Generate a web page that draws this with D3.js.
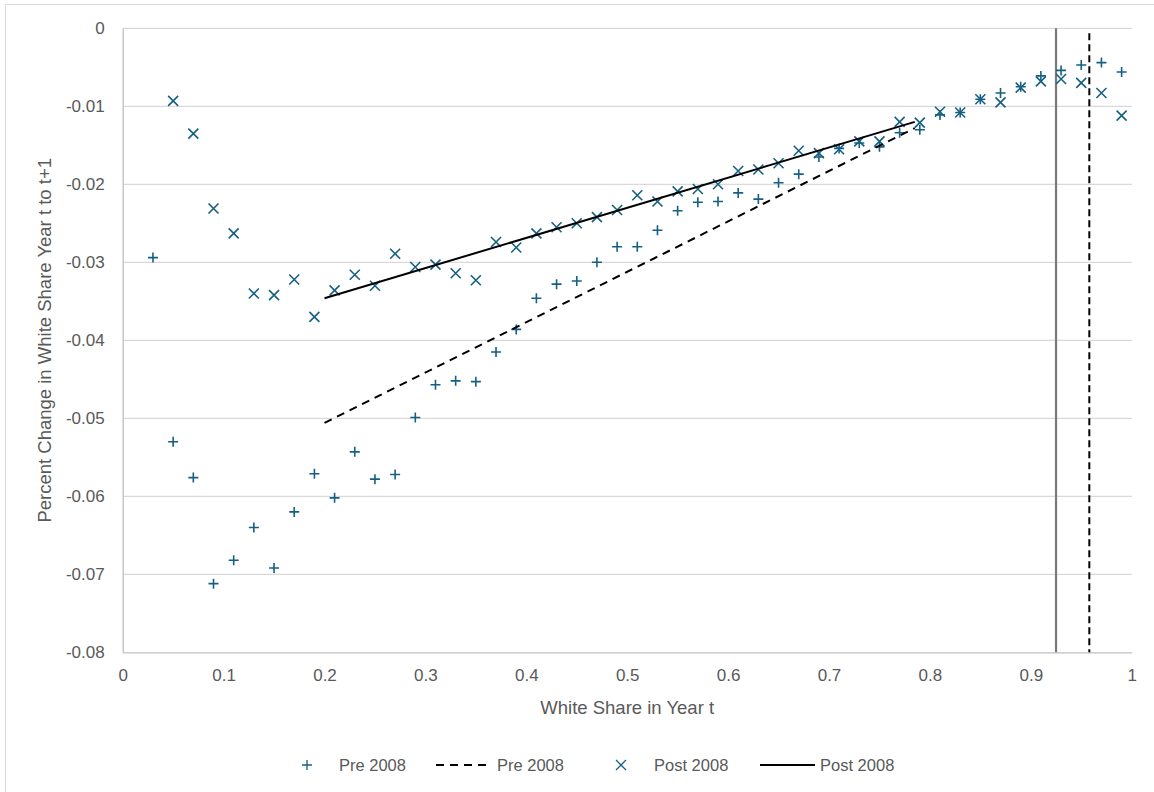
<!DOCTYPE html>
<html>
<head>
<meta charset="utf-8">
<script src="https://cdn.jsdelivr.net/npm/d3@7"></script>
<style>
  body { margin: 0; background: #fff; }
  text { font-family: "Liberation Sans", Arial, sans-serif; fill: #595959; }
</style>
</head>
<body>
<div id="chart"></div>
<script>
// White share bins (x), one point per bin
var shares = [0.03, 0.05, 0.07, 0.09, 0.11, 0.13, 0.15, 0.17, 0.19, 0.21,
              0.23, 0.25, 0.27, 0.29, 0.31, 0.33, 0.35, 0.37, 0.39, 0.41,
              0.43, 0.45, 0.47, 0.49, 0.51, 0.53, 0.55, 0.57, 0.59, 0.61,
              0.63, 0.65, 0.67, 0.69, 0.71, 0.73, 0.75, 0.77, 0.79, 0.81,
              0.83, 0.85, 0.87, 0.89, 0.91, 0.93, 0.95, 0.97, 0.99];

var pre2008 = [-0.0294, -0.0530, -0.0576, -0.0712, -0.0682, -0.0640, -0.0692, -0.0620, -0.0571, -0.0602,
               -0.0543, -0.0578, -0.0572, -0.0499, -0.0457, -0.0452, -0.0453, -0.0415, -0.0386, -0.0346,
               -0.0328, -0.0324, -0.0300, -0.0280, -0.0280, -0.0259, -0.0234, -0.0223, -0.0222, -0.0211,
               -0.0219, -0.0198, -0.0187, -0.0165, -0.0154, -0.0147, -0.0152, -0.0134, -0.0130, -0.0111,
               -0.0108, -0.0091, -0.0083, -0.0075, -0.0061, -0.0054, -0.0047, -0.0044, -0.0056];

var post2008 = [null, -0.0093, -0.0135, -0.0231, -0.0263, -0.0340, -0.0342, -0.0322, -0.0370, -0.0336,
                -0.0316, -0.0330, -0.0289, -0.0306, -0.0303, -0.0314, -0.0323, -0.0274, -0.0281, -0.0263,
                -0.0255, -0.0250, -0.0242, -0.0233, -0.0214, -0.0222, -0.0209, -0.0206, -0.0200, -0.0183,
                -0.0181, -0.0173, -0.0157, -0.0160, -0.0155, -0.0145, -0.0145, -0.0120, -0.0121, -0.0107,
                -0.0108, -0.0091, -0.0095, -0.0076, -0.0068, -0.0065, -0.0070, -0.0083, -0.0112];

// linear fit lines (endpoints as drawn)
var preTrend = [[0.2, -0.0506], [0.785, -0.0128]];
var postTrend = [[0.2, -0.0346], [0.785, -0.0120]];

// vertical reference lines
var postCutoff = 0.925;
var preCutoff = 0.958;

var xTicks = [0, 0.1, 0.2, 0.3, 0.4, 0.5, 0.6, 0.7, 0.8, 0.9, 1];
var yTicks = [0, -0.01, -0.02, -0.03, -0.04, -0.05, -0.06, -0.07, -0.08];

var W = 1154, H = 792;
var markColor = "#156082";

var svg = d3.select("#chart")
    .append("svg")
    .attr("width", W)
    .attr("height", H);

// chart border
svg.append("rect")
    .attr("x", 5.5).attr("y", 4.5)
    .attr("width", W).attr("height", H)
    .attr("fill", "none")
    .attr("stroke", "#d9d9d9");

var x = d3.scaleLinear().domain([0, 1]).range([122.7, 1131.7]);
var y = d3.scaleLinear().domain([-0.08, 0]).range([652.3, 28.3]);

// gridlines
svg.append("g")
    .selectAll("line")
    .data(yTicks.filter(function(d) { return d !== -0.08; }))
    .enter()
    .append("line")
    .attr("x1", x(0)).attr("x2", x(1))
    .attr("y1", function(d) { return y(d); })
    .attr("y2", function(d) { return y(d); })
    .attr("stroke", "#d9d9d9")
    .attr("stroke-width", 1.3);

// axes
var xAxis = svg.append("g")
    .attr("transform", "translate(0," + y(-0.08) + ")")
    .call(d3.axisBottom(x).tickValues(xTicks).tickSize(0).tickPadding(17)
        .tickFormat(function(d) { return d3.format("")(+d.toFixed(1)); }));
xAxis.select(".domain").attr("stroke", "#bfbfbf").attr("stroke-width", 1.3);
xAxis.selectAll("text").style("font-size", "17px").style("fill", "#595959");

var yAxis = svg.append("g")
    .attr("transform", "translate(" + x(0) + ",0)")
    .call(d3.axisLeft(y).tickValues(yTicks).tickSize(0).tickPadding(18)
        .tickFormat(function(d) { return d === 0 ? "0" : d3.format(".2f")(d).replace("−", "-"); }));
yAxis.select(".domain").attr("stroke", "#bfbfbf").attr("stroke-width", 1.3);
yAxis.selectAll("text").style("font-size", "17px").style("fill", "#595959");

// axis titles
svg.append("text")
    .attr("x", (x(0) + x(1)) / 2)
    .attr("y", 714)
    .attr("text-anchor", "middle")
    .style("font-size", "18.5px")
    .text("White Share in Year t");

svg.append("text")
    .attr("transform", "translate(51," + ((y(0) + y(-0.08)) / 2) + ")rotate(-90)")
    .attr("text-anchor", "middle")
    .style("font-size", "18.5px")
    .text("Percent Change in White Share Year t to t+1");

// vertical reference lines
svg.append("line")
    .attr("x1", x(postCutoff)).attr("x2", x(postCutoff))
    .attr("y1", y(0)).attr("y2", y(-0.08))
    .attr("stroke", "#7a7a7a")
    .attr("stroke-width", 2.2);

svg.append("line")
    .attr("x1", x(preCutoff)).attr("x2", x(preCutoff))
    .attr("y1", y(0) + 5).attr("y2", y(-0.08))
    .attr("stroke", "#000")
    .attr("stroke-width", 2)
    .attr("stroke-dasharray", "7,4");

var plusPath = "M-5,0H5M0,-5V5";
var timesPath = "M-5,-5L5,5M-5,5L5,-5";

// Pre 2008 points
svg.append("g")
    .selectAll("path")
    .data(shares.map(function(s, i) { return [s, pre2008[i]]; }).filter(function(d) { return d[1] != null; }))
    .enter()
    .append("path")
    .attr("d", plusPath)
    .attr("transform", function(d) { return "translate(" + x(d[0]) + "," + y(d[1]) + ")"; })
    .attr("stroke", markColor)
    .attr("stroke-width", 1.6)
    .attr("fill", "none");

// Post 2008 points
svg.append("g")
    .selectAll("path")
    .data(shares.map(function(s, i) { return [s, post2008[i]]; }).filter(function(d) { return d[1] != null; }))
    .enter()
    .append("path")
    .attr("d", timesPath)
    .attr("transform", function(d) { return "translate(" + x(d[0]) + "," + y(d[1]) + ")"; })
    .attr("stroke", markColor)
    .attr("stroke-width", 1.6)
    .attr("fill", "none");

// trend lines
var line = d3.line()
    .x(function(d) { return x(d[0]); })
    .y(function(d) { return y(d[1]); });

svg.append("path")
    .attr("d", line(preTrend))
    .attr("fill", "none")
    .attr("stroke", "#000")
    .attr("stroke-width", 2)
    .attr("stroke-dasharray", "8,6");

svg.append("path")
    .attr("d", line(postTrend))
    .attr("fill", "none")
    .attr("stroke", "#000")
    .attr("stroke-width", 2);

// legend
var ly = 765;
var legend = svg.append("g");

legend.append("path").attr("d", plusPath)
    .attr("transform", "translate(307," + ly + ")")
    .attr("stroke", markColor).attr("stroke-width", 1.3).attr("fill", "none");
legend.append("text").attr("x", 339).attr("y", ly + 6).style("font-size", "16.5px").text("Pre 2008");

legend.append("line").attr("x1", 436).attr("x2", 491).attr("y1", ly).attr("y2", ly)
    .attr("stroke", "#000").attr("stroke-width", 2).attr("stroke-dasharray", "8,6");
legend.append("text").attr("x", 497).attr("y", ly + 6).style("font-size", "16.5px").text("Pre 2008");

legend.append("path").attr("d", timesPath)
    .attr("transform", "translate(621," + ly + ")")
    .attr("stroke", markColor).attr("stroke-width", 1.3).attr("fill", "none");
legend.append("text").attr("x", 654).attr("y", ly + 6).style("font-size", "16.5px").text("Post 2008");

legend.append("line").attr("x1", 760).attr("x2", 815).attr("y1", ly).attr("y2", ly)
    .attr("stroke", "#000").attr("stroke-width", 2);
legend.append("text").attr("x", 820).attr("y", ly + 6).style("font-size", "16.5px").text("Post 2008");
</script>
</body>
</html>
